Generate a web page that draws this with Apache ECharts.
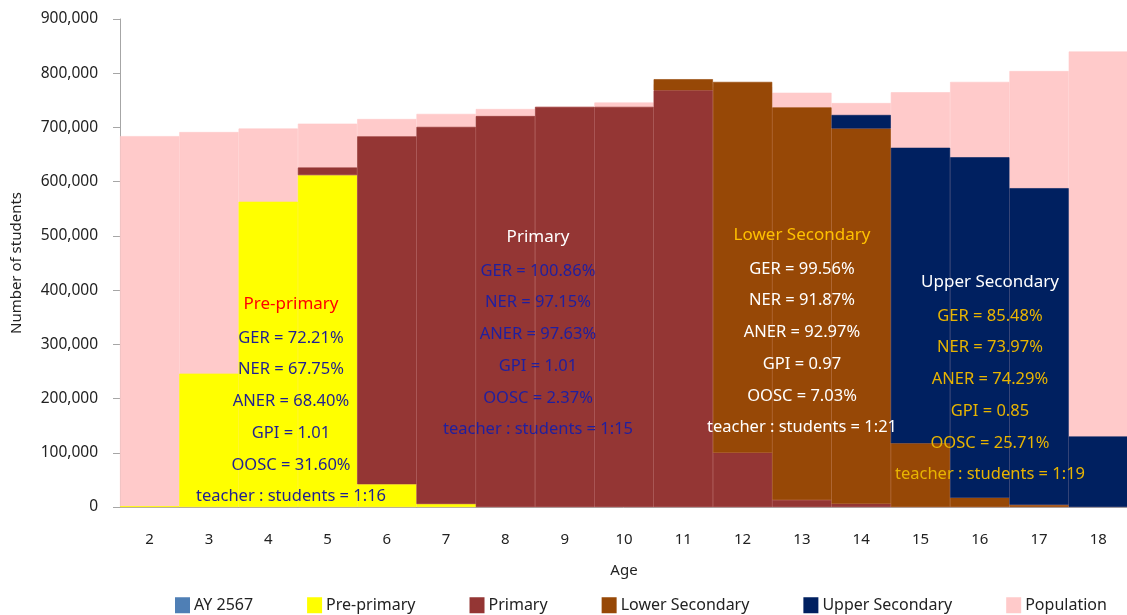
<!DOCTYPE html>
<html>
<head>
    <title>Students by age</title>
    <script src="https://cdn.jsdelivr.net/npm/echarts@6.0.0/dist/echarts.min.js"></script>
    <style>
        body { margin: 0; background: #fff; overflow: hidden; }
        #chart { width: 1127px; height: 615px; }
    </style>
</head>
<body>
    <div id="chart"></div>
    <script>
        // Ages on the x axis
        const ages = ['2', '3', '4', '5', '6', '7', '8', '9', '10', '11', '12', '13', '14', '15', '16', '17', '18'];

        // Number of students / population per age
        const population     = [684000, 691500, 698000, 707000, 715500, 725000, 734000, 738000, 746000, 780000, 775000, 764000, 745000, 765000, 784000, 804000, 840000];
        const prePrimary     = [1500, 246000, 563000, 612000, 42000, 5500, 0, 0, 0, 0, 0, 0, 0, 0, 0, 0, 0];
        const primary        = [0, 0, 0, 14000, 641600, 695500, 721000, 738000, 738000, 768500, 100000, 13000, 6000, 0, 0, 0, 0];
        const lowerSecondary = [0, 0, 0, 0, 0, 0, 0, 0, 0, 20500, 684000, 724000, 692000, 117500, 17000, 4000, 0];
        const upperSecondary = [0, 0, 0, 0, 0, 0, 0, 0, 0, 0, 0, 0, 25000, 545000, 628000, 584000, 130000];

        // Indicator text blocks
        const preText   = ['GER = 72.21%', 'NER = 67.75%', 'ANER = 68.40%', 'GPI = 1.01', 'OOSC = 31.60%', 'teacher : students = 1:16'];
        const primText  = ['GER = 100.86%', 'NER = 97.15%', 'ANER = 97.63%', 'GPI = 1.01', 'OOSC = 2.37%', 'teacher : students = 1:15'];
        const lowerText = ['GER = 99.56%', 'NER = 91.87%', 'ANER = 92.97%', 'GPI = 0.97', 'OOSC = 7.03%', 'teacher : students = 1:21'];
        const upperText = ['GER = 85.48%', 'NER = 73.97%', 'ANER = 74.29%', 'GPI = 0.85', 'OOSC = 25.71%', 'teacher : students = 1:19'];

        const FONT = '"Noto Sans", sans-serif';
        const chart = echarts.init(document.getElementById('chart'));

        function block(title, titleColor, lines, lineColor, cx, ty) {
            const els = [{
                type: 'text', x: cx, y: ty, z: 100,
                style: { text: title, fill: titleColor, fontSize: 17, fontFamily: FONT, align: 'center', verticalAlign: 'middle' }
            }];
            lines.forEach((t, i) => {
                els.push({
                    type: 'text', x: cx, y: ty + 34 + i * 31.7, z: 100,
                    style: { text: t, fill: lineColor, fontSize: 16.5, fontFamily: FONT, align: 'center', verticalAlign: 'middle' }
                });
            });
            return els;
        }

        // zero -> empty so no hairline is drawn; same-colour border hides seams between bands
        function bars(name, data, color, stack) {
            return {
                type: 'bar', name: name, stack: stack,
                barGap: '-100%', barCategoryGap: 0,
                data: data.map(v => (v ? v : '-')),
                itemStyle: { color: color, borderColor: color, borderWidth: 0.6 }
            };
        }

        chart.setOption({
            animation: false,
            textStyle: { fontFamily: FONT },
            grid: { left: 120, width: 1008, top: 19, height: 488, outerBoundsMode: 'none', containLabel: false },
            legend: {
                data: ['AY 2567', 'Pre-primary', 'Primary', 'Lower Secondary', 'Upper Secondary', 'Population'],
                left: 170, top: 587,
                itemWidth: 13, itemHeight: 14, itemGap: 54,
                icon: 'rect',
                textStyle: { fontSize: 16, color: '#222', fontFamily: FONT }
            },
            xAxis: {
                type: 'category',
                data: ages,
                name: 'Age',
                nameLocation: 'middle',
                nameGap: 51,
                nameTextStyle: { fontSize: 15, color: '#222' },
                axisLine: { lineStyle: { color: '#a6a6a6' } },
                axisTick: { length: 7, lineStyle: { color: '#a6a6a6' } },
                axisLabel: { fontSize: 15, color: '#222', margin: 20 }
            },
            yAxis: {
                type: 'value',
                min: 0, max: 900000, interval: 100000,
                name: 'Number of students',
                nameLocation: 'middle',
                nameGap: 91,
                nameTextStyle: { fontSize: 15, color: '#222' },
                axisLine: { show: true, lineStyle: { color: '#a6a6a6' } },
                axisTick: { show: true, length: 7, lineStyle: { color: '#a6a6a6' } },
                splitLine: { show: false },
                axisLabel: {
                    fontSize: 15.5, color: '#222', margin: 22,
                    formatter: v => v.toLocaleString('en-US')
                }
            },
            series: [
                bars('Population', population, '#ffcaca'),
                bars('AY 2567', [], '#4f7fb5', 'edu'),
                bars('Pre-primary', prePrimary, '#ffff00', 'edu'),
                bars('Primary', primary, '#943634', 'edu'),
                bars('Lower Secondary', lowerSecondary, '#974806', 'edu'),
                bars('Upper Secondary', upperSecondary, '#002060', 'edu')
            ],
            graphic: [].concat(
                block('Pre-primary', '#ff0000', preText, '#1f1f94', 291, 304),
                block('Primary', '#ffffff', primText, '#1f1fa0', 538, 237),
                block('Lower Secondary', '#ffc000', lowerText, '#ffffff', 802, 235),
                block('Upper Secondary', '#ffffff', upperText, '#e8b400', 990, 282)
            )
        });
    </script>
</body>
</html>
